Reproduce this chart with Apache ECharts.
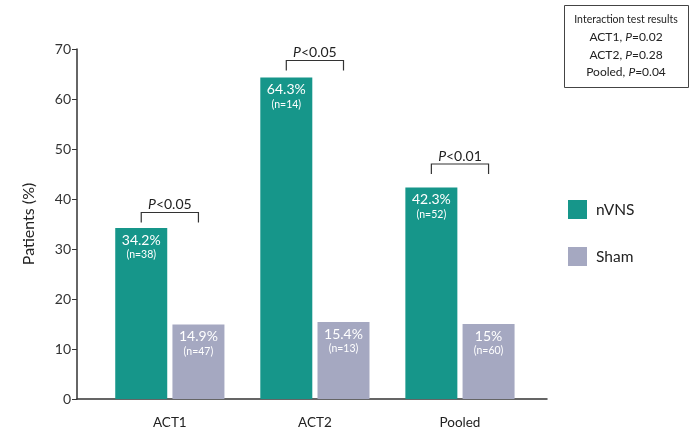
<!DOCTYPE html>
<html>
<head>
<meta charset="utf-8">
<script src="https://cdn.jsdelivr.net/npm/echarts@6/dist/echarts.min.js"></script>
<style>html,body{margin:0;padding:0;background:#fff}#c{width:699px;height:435px}</style>
</head>
<body>
<div id="c"></div>
<script>
var categories = ['ACT1', 'ACT2', 'Pooled'];
var categoryPos = [1, 2, 3];
var nvnsValues = [34.2, 64.3, 42.3];
var nvnsN = [38, 14, 52];
var shamValues = [14.9, 15.4, 15];
var shamN = [47, 13, 60];
var bracketY = [37.3, 67.7, 47.0];
var bracketText = ['0.05', '0.05', '0.01'];
var yTicks = [0, 10, 20, 30, 40, 50, 60, 70];
var interactionLines = ['ACT1, ', 'ACT2, ', 'Pooled, '];
var interactionP = ['0.02', '0.28', '0.04'];

var FONT = 'Lato, "Open Sans", sans-serif';
var TEAL = '#16968a';
var GREY = '#a5a8c1';

function pairs(vals) { return vals.map(function (v, i) { return [categoryPos[i], v]; }); }

function barLabel(nArr) {
  return {
    show: true,
    position: 'insideTop',
    distance: 4,
    formatter: function (p) {
      return '{a|' + p.value[1] + '%}\n{b|(n=' + nArr[p.dataIndex] + ')}';
    },
    rich: {
      a: { fontFamily: FONT, fontSize: 14, color: '#fff', lineHeight: 16 },
      b: { fontFamily: FONT, fontSize: 10.5, color: '#fff', lineHeight: 14 }
    }
  };
}

var boxText = '{h|Interaction test results}\n' + interactionLines.map(function (l, i) {
  return '{t|' + l + '}{i|P}{t|=' + interactionP[i] + '}';
}).join('\n');

var chart = echarts.init(document.getElementById('c'));
chart.setOption({
  animation: false,
  textStyle: { fontFamily: FONT },
  grid: { left: 77, right: 152, top: 49, bottom: 36 },
  xAxis: {
    type: 'value', min: 0.36, max: 3.6,
    splitLine: { show: false },
    axisLine: { show: true, onZero: false, lineStyle: { color: '#333', width: 1.5 } },
    axisTick: { show: false },
    axisLabel: {
      customValues: categoryPos,
      formatter: function (v) { return categories[categoryPos.indexOf(v)] || ''; },
      fontSize: 13.5, color: '#222', margin: 17, fontFamily: FONT
    }
  },
  yAxis: {
    type: 'value', min: 0, max: 70, interval: 10,
    name: 'Patients (%)', nameLocation: 'middle', nameGap: 40,
    nameTextStyle: { fontSize: 16, color: '#222', fontFamily: FONT },
    splitLine: { show: false },
    axisLine: { show: true, lineStyle: { color: '#333', width: 1.5 } },
    axisTick: { show: true, length: 5, lineStyle: { color: '#333' } },
    axisLabel: {
      fontSize: 14, color: '#333', margin: 6, fontFamily: FONT,
      formatter: function (v) { return yTicks.indexOf(v) >= 0 ? String(v) : ''; }
    }
  },
  legend: {
    orient: 'vertical', left: 563, top: 195,
    itemWidth: 19, itemHeight: 19, itemGap: 28,
    icon: 'rect',
    textStyle: { fontSize: 15.5, color: '#222', fontFamily: FONT, padding: [0, 0, 0, 4] },
    data: ['nVNS', 'Sham']
  },
  series: [
    {
      name: 'nVNS', type: 'bar', data: pairs(nvnsValues),
      barWidth: 52, barGap: '10%',
      itemStyle: { color: TEAL },
      label: barLabel(nvnsN)
    },
    {
      name: 'Sham', type: 'bar', data: pairs(shamValues),
      barWidth: 52, barGap: '10%',
      itemStyle: { color: GREY },
      label: barLabel(shamN)
    },
    {
      type: 'custom', silent: true, z: 5,
      data: pairs(bracketY),
      renderItem: function (params, api) {
        var p = api.coord([api.value(0), api.value(1)]);
        var half = 28.6, leg = 10;
        return {
          type: 'group',
          children: [
            {
              type: 'polyline',
              shape: { points: [[p[0] - half, p[1] + leg], [p[0] - half, p[1]], [p[0] + half, p[1]], [p[0] + half, p[1] + leg]] },
              style: { stroke: '#333', lineWidth: 1.2, fill: null }
            },
            {
              type: 'text',
              x: p[0], y: p[1] - 8,
              style: {
                text: '{i|P}{t|<' + bracketText[params.dataIndex] + '}',
                align: 'center', verticalAlign: 'middle',
                rich: {
                  i: { fontFamily: FONT, fontSize: 14, fontStyle: 'italic', fill: '#222' },
                  t: { fontFamily: FONT, fontSize: 14, fill: '#222' }
                }
              }
            }
          ]
        };
      }
    }
  ],
  graphic: [
    {
      type: 'rect', left: 564, top: 5,
      shape: { width: 124, height: 82 },
      style: { fill: '#fff', stroke: '#444', lineWidth: 1 }
    },
    {
      type: 'text', x: 626, y: 46,
      style: {
        text: boxText, align: 'center', verticalAlign: 'middle',
        rich: {
          h: { fontFamily: FONT, fontSize: 10.5, fill: '#222', lineHeight: 17.5 },
          t: { fontFamily: FONT, fontSize: 12, fill: '#222', lineHeight: 17.5 },
          i: { fontFamily: FONT, fontSize: 12, fontStyle: 'italic', fill: '#222', lineHeight: 17.5 }
        }
      }
    }
  ]
});
</script>
</body>
</html>
